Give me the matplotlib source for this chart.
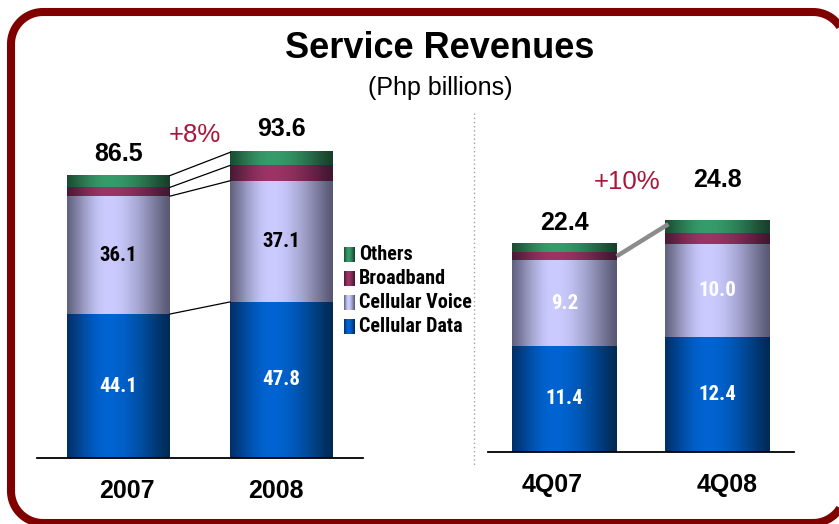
import numpy as np
import matplotlib
matplotlib.use('Agg')
import matplotlib.pyplot as plt
from matplotlib import font_manager as fm

# ---------------- data ----------------
series_names = ['Cellular Data', 'Cellular Voice', 'Broadband', 'Others']

annual_categories = ['2007', '2008']
annual_cellular_data = [44.1, 47.8]
annual_cellular_voice = [36.1, 37.1]
annual_broadband = [2.7, 4.7]
annual_others = [3.6, 4.0]
annual_totals = [86.5, 93.6]
annual_growth = '+8%'

quarter_categories = ['4Q07', '4Q08']
quarter_cellular_data = [11.4, 12.4]
quarter_cellular_voice = [9.2, 10.0]
quarter_broadband = [0.9, 1.1]
quarter_others = [0.9, 1.3]
quarter_totals = [22.4, 24.8]
quarter_growth = '+10%'

# ---------------- styles ----------------
W, H = 839, 524
SANS = ['Liberation Sans', 'DejaVu Sans']
plt.rcParams['font.family'] = SANS

installed = {f.name for f in fm.fontManager.ttflist}
condensed = [f for f in fm.fontManager.ttflist
             if f.stretch in ('condensed', 'semi-condensed', 'extra-condensed', 550, 'narrow')
             or 'Narrow' in f.name or 'Condensed' in f.name]
NARROW = []
for cand in ['Liberation Sans Narrow', 'Arial Narrow', 'Roboto Condensed', 'Open Sans Condensed']:
    if cand in installed:
        NARROW.append(cand)
for f in condensed:
    if f.name not in NARROW:
        NARROW.append(f.name)
NARROW += ['Liberation Sans', 'DejaVu Sans']

# (peak, left edge, right edge)
grad_colors = {
    'Cellular Data': ('#0064d2', '#00306a', '#002a55'),
    'Cellular Voice': ('#cbcbff', '#62627f', '#585873'),
    'Broadband': ('#9c3466', '#4a1a34', '#401630'),
    'Others': ('#369c6a', '#1c4c33', '#173f2b'),
}


def hex2rgb(h):
    h = h.lstrip('#')
    return np.array([int(h[i:i + 2], 16) / 255 for i in (0, 2, 4)])


def grad_img(name, n=256):
    peak, el, er = (hex2rgb(c) for c in grad_colors[name])
    t = np.linspace(0, 1, n)
    p = 0.4
    w = np.where(t < p, t / p, (1 - t) / (1 - p))
    w = np.sin(np.clip(w, 0, 1) * np.pi / 2) ** 1.2
    edge = np.where((t < p)[:, None], el[None, :], er[None, :])
    img = edge + (peak[None, :] - edge) * w[:, None]
    return np.clip(img, 0, 1)[None, :, :]


fig = plt.figure(figsize=(W / 100, H / 100), dpi=100)

# overlay axes in pixel coordinates (y downward)
ov = fig.add_axes([0, 0, 1, 1])
ov.set_xlim(0, W)
ov.set_ylim(H, 0)
ov.axis('off')


# decorative rounded frame drawn as an open outline (right side lies off-canvas)
def arc(cx, cy, r, a0, a1, n=24):
    a = np.radians(np.linspace(a0, a1, n))
    return cx + r * np.cos(a), cy - r * np.sin(a)


fl, ft, fr, fb, R = 11, 12, 845, 523, 32
pieces = [arc(fr - R, ft + R, R, 0, 90), arc(fl + R, ft + R, R, 90, 180),
          arc(fl + R, fb - R, R, 180, 270), arc(fr - R, fb - R, R, 270, 360)]
fx = np.concatenate([p[0] for p in pieces])
fy = np.concatenate([p[1] for p in pieces])
ov.plot(fx, fy, color='#800000', lw=5.8, solid_joinstyle='round', solid_capstyle='butt',
        zorder=1)

ov.text(440, 48, 'Service Revenues', ha='center', va='center', fontsize=26,
        fontweight='bold', color='black')
ov.text(440, 88, '(Php billions)', ha='center', va='center', fontsize=18, color='black')

ov.plot([474, 474], [113, 467], color='#a0a0a0', lw=1.0, ls=(0, (1, 2)))

# legend
legend_rows = [('Others', 255), ('Broadband', 279), ('Cellular Voice', 303), ('Cellular Data', 327)]
for name, cy in legend_rows:
    ov.imshow(grad_img(name), extent=[344, 355, cy + 7.5, cy - 7.5], aspect='auto',
              interpolation='bilinear', zorder=3)
    ov.text(359, cy, name, ha='left', va='center', fontsize=14.5, fontweight='bold',
            family=NARROW, fontstretch='condensed', color='black')
ov.set_xlim(0, W)
ov.set_ylim(H, 0)

ov.text(195, 135, annual_growth, ha='center', va='center', fontsize=18.5, color='#a8163a')
ov.text(627, 182, quarter_growth, ha='center', va='center', fontsize=18.5, color='#a8163a')


def px_axes(left, right, base, top):
    return fig.add_axes([left / W, 1 - base / H, (right - left) / W, (base - top) / H])


def draw_panel(ax, cats, series, totals, width, ymax, total_offsets, inner_colors,
               cat_offsets, connector):
    x = np.arange(len(cats))
    bottoms = np.zeros(len(cats))
    cum = [bottoms.copy()]
    for name, vals in zip(series_names, series):
        vals = np.asarray(vals, float)
        bars = ax.bar(x, vals, width, bottom=bottoms, color='none', edgecolor='none')
        for rect in bars:
            x0, y0 = rect.get_xy()
            ax.imshow(grad_img(name), extent=[x0, x0 + rect.get_width(), y0, y0 + rect.get_height()],
                      aspect='auto', interpolation='bilinear', zorder=2)
        bottoms = bottoms + vals
        cum.append(bottoms.copy())
    ax.set_xlim(-0.5, 1.5)
    ax.set_ylim(0, ymax)
    for s in ['top', 'right', 'left']:
        ax.spines[s].set_visible(False)
    ax.spines['bottom'].set_linewidth(1.3)
    ax.set_yticks([])
    ax.set_xticks([])
    ax.patch.set_alpha(0)

    # inner labels for data and voice
    for k in range(2):
        for i in range(len(cats)):
            mid = (cum[k][i] + cum[k + 1][i]) / 2
            ax.text(x[i], mid, f'{series[k][i]:.1f}', ha='center', va='center',
                    fontsize=15, fontweight='bold', family=NARROW, fontstretch='condensed',
                    color=inner_colors[k], zorder=5)
    # totals
    for i, t in enumerate(totals):
        ax.annotate(f'{t:.1f}', xy=(x[i], t), xytext=(0, total_offsets[i]),
                    textcoords='offset pixels', ha='center', va='center',
                    fontsize=18, fontweight='bold', color='black', annotation_clip=False)
    # category labels
    for i, c in enumerate(cats):
        ax.annotate(c, xy=(x[i], 0), xytext=(cat_offsets[i], -33), textcoords='offset pixels',
                    ha='center', va='center', fontsize=18, fontweight='bold', color='black',
                    annotation_clip=False)
    connector(ax, x, cum, width)


def annual_conn(ax, x, cum, width):
    for k in (1, 2, 3, 4):
        ax.plot([x[0] + width / 2, x[1] - width / 2], [cum[k][0], cum[k][1]],
                color='black', lw=0.9, zorder=4)


def quarter_conn(ax, x, cum, width):
    y0 = (cum[2][0] + cum[3][0]) / 2
    y1 = cum[4][1] - 0.3
    ax.plot([x[0] + width / 2, x[1] - width / 2 + 0.02], [y0, y1],
            color='#8c8c8c', lw=3.2, zorder=6, solid_capstyle='butt')


ax1 = px_axes(37, 363, 458, 100)
draw_panel(ax1, annual_categories,
           [annual_cellular_data, annual_cellular_voice, annual_broadband, annual_others],
           annual_totals, 103 / 163, (458 - 100) / 3.265, [22, 23], ['white', 'black'],
           [8, -6], annual_conn)

ax2 = px_axes(488, 794, 452, 100)
draw_panel(ax2, quarter_categories,
           [quarter_cellular_data, quarter_cellular_voice, quarter_broadband, quarter_others],
           quarter_totals, 104 / 152.5, (452 - 100) / 9.3, [21, 41], ['white', 'white'],
           [-12, 10], quarter_conn)

fig.savefig('out.png', dpi=100)
